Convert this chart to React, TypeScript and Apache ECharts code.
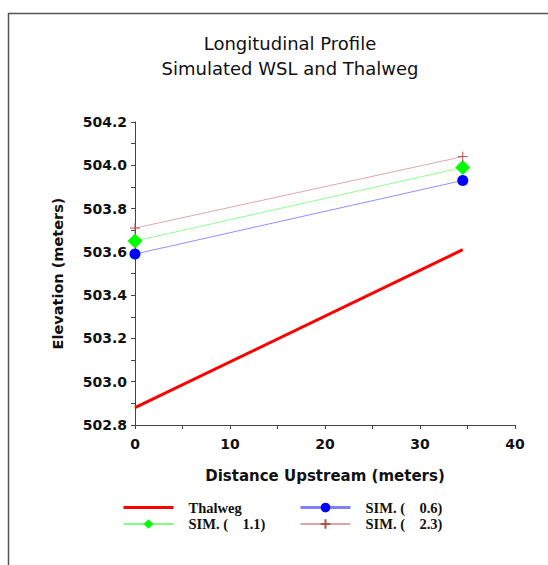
import React, { useEffect, useRef } from "react";
import * as echarts from "echarts";

const distance = [0, 34.5];
const thalweg = [502.88, 503.61];
const sim06 = [503.59, 503.93];
const sim11 = [503.65, 503.99];
const sim23 = [503.71, 504.04];
const seriesNames = ["Thalweg", "SIM. (    0.6)", "SIM. (    1.1)", "SIM. (    2.3)"];
const titleLines = ["Longitudinal Profile", "Simulated WSL and Thalweg"];

const pts = (ys: number[]) => ys.map((y, i) => [distance[i], y]);

export default function App() {
  const ref = useRef<HTMLDivElement>(null);
  useEffect(() => {
    if (!ref.current) return;
    const chart = echarts.init(ref.current, undefined, { renderer: "svg" });
    const tickFont = { fontFamily: "DejaVu Sans", fontWeight: "bold" as const, fontSize: 14, color: "#111" };
    const legendText = {
      fontFamily: "Liberation Serif",
      fontWeight: "bold" as const,
      fontSize: 14.5,
      color: "#111",
      padding: [0, 0, 0, 10],
    };
    chart.setOption({
      animation: false,
      backgroundColor: "#fff",
      title: {
        text: titleLines.join("\n"),
        left: 285,
        top: 26,
        textAlign: "center",
        textStyle: { fontFamily: "DejaVu Sans", fontWeight: "normal", fontSize: 18, color: "#111", lineHeight: 25 },
      },
      graphic: [
        { type: "line", shape: { x1: 8, y1: 13.5, x2: 548, y2: 13.5 }, style: { stroke: "#555", lineWidth: 1.5 } },
        { type: "line", shape: { x1: 8.5, y1: 13, x2: 8.5, y2: 565 }, style: { stroke: "#555", lineWidth: 1.5 } },
      ],
      legend: [
        {
          data: [
            { name: seriesNames[0], itemStyle: { opacity: 0 }, lineStyle: { color: "#ff0000", width: 3 } },
            { name: seriesNames[2], lineStyle: { color: "#00ff00", width: 1 } },
          ],
          orient: "vertical",
          left: 122,
          top: 500,
          itemWidth: 50,
          itemHeight: 12,
          itemGap: 1.5,
          textStyle: legendText,
          padding: 0,
        },
        {
          data: [
            { name: seriesNames[1], lineStyle: { color: "#8080ff", width: 3 } },
            { name: seriesNames[3], lineStyle: { color: "#b05050", width: 1 } },
          ],
          orient: "vertical",
          left: 299,
          top: 500,
          itemWidth: 50,
          itemHeight: 12,
          itemGap: 1.5,
          textStyle: legendText,
          padding: 0,
        },
      ],
      grid: { left: 135, right: 33, top: 122, bottom: 140 },
      xAxis: {
        type: "value",
        min: 0,
        max: 40,
        interval: 10,
        name: "Distance Upstream (meters)",
        nameLocation: "middle",
        nameGap: 43,
        nameTextStyle: { ...tickFont, fontSize: 15 },
        axisLine: { show: true, onZero: false, lineStyle: { color: "#444", width: 1 } },
        axisTick: { show: true, length: 4, lineStyle: { color: "#444" } },
        minorTick: { show: true, splitNumber: 2, length: 4, lineStyle: { color: "#444" } },
        axisLabel: { ...tickFont, margin: 12 },
        splitLine: { show: false },
      },
      yAxis: {
        type: "value",
        min: 502.8,
        max: 504.2,
        interval: 0.2,
        name: "Elevation (meters)",
        nameLocation: "middle",
        nameGap: 70,
        nameTextStyle: { ...tickFont, fontSize: 14.5 },
        axisLine: { show: true, lineStyle: { color: "#444", width: 1 } },
        axisTick: { show: true, length: 4, lineStyle: { color: "#444" } },
        minorTick: { show: true, splitNumber: 2, length: 4, lineStyle: { color: "#444" } },
        axisLabel: { ...tickFont, margin: 8, formatter: (v: number) => v.toFixed(1) },
        splitLine: { show: false },
      },
      series: [
        {
          name: seriesNames[0],
          type: "line",
          data: pts(thalweg),
          showSymbol: false,
          lineStyle: { color: "#ff0000", width: 3 },
          itemStyle: { color: "#ff0000" },
        },
        {
          name: seriesNames[1],
          type: "line",
          data: pts(sim06),
          symbol: "circle",
          symbolSize: 11,
          lineStyle: { color: "#9090ff", width: 1 },
          itemStyle: { color: "#0000ff" },
        },
        {
          name: seriesNames[2],
          type: "line",
          data: pts(sim11),
          symbol: "diamond",
          symbolSize: 15,
          lineStyle: { color: "#90ff90", width: 1 },
          itemStyle: { color: "#00ff00" },
        },
        {
          name: seriesNames[3],
          type: "line",
          data: pts(sim23),
          symbol: "path://M5,0L5,10M0,5L10,5",
          symbolSize: 10,
          lineStyle: { color: "#e0a8a8", width: 1 },
          itemStyle: { color: "#b05050", borderColor: "#b05050", borderWidth: 1 },
        },
      ],
    });
    return () => chart.dispose();
  }, []);
  return <div ref={ref} style={{ position: "fixed", left: 0, top: 0, width: 548, height: 565 }} />;
}
